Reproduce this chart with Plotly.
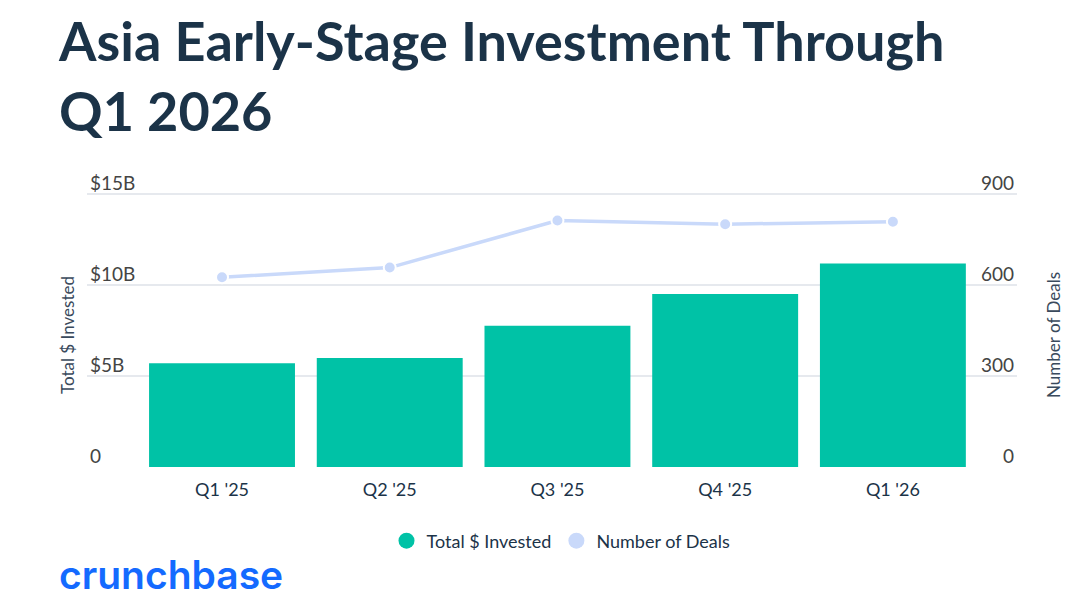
import plotly.graph_objects as go

# data
quarters = ["Q1 '25", "Q2 '25", "Q3 '25", "Q4 '25", "Q1 '26"]
invested_b = [5.70, 5.99, 7.76, 9.50, 11.17]
deal_counts = [625, 657, 812, 800, 808]

left_ticks = [0, 5, 10, 15]
left_labels = ["0", "$5B", "$10B", "$15B"]
right_ticks = [0, 300, 600, 900]

GREEN = "#00c2a6"
LIGHT_BLUE = "#c9d9fa"
INK = "#1b3348"
GRID = "#e6e9ee"
FONT = "Lato"

W, H = 1074, 600
ML, MR, MT, MB = 87, 57, 192, 133
PW, PH = W - ML - MR, H - MT - MB


def px_x(x):
    return (x - ML) / PW


def px_y(y):
    return (H - MB - y) / PH


fig = go.Figure()

fig.add_trace(go.Bar(
    x=quarters,
    y=invested_b,
    marker=dict(color=GREEN, line=dict(width=0)),
    showlegend=False,
    name="Total $ Invested",
))
fig.add_trace(go.Scatter(
    x=quarters,
    y=deal_counts,
    yaxis="y2",
    mode="lines+markers",
    line=dict(color=LIGHT_BLUE, width=3.5),
    marker=dict(size=12, color=LIGHT_BLUE, line=dict(color="white", width=2)),
    showlegend=False,
    name="Number of Deals",
))

# legend entries drawn as circles
for name, color in [("Total $ Invested", GREEN), ("Number of Deals", LIGHT_BLUE)]:
    fig.add_trace(go.Scatter(
        x=[None], y=[None], mode="markers", name=name,
        marker=dict(size=18, color=color, symbol="circle"),
    ))

fig.update_layout(
    width=W,
    height=H,
    margin=dict(l=ML, r=MR, t=MT, b=MB, autoexpand=False),
    paper_bgcolor="white",
    plot_bgcolor="white",
    font=dict(family=FONT, color=INK, size=18),
    bargap=0.13,
    xaxis=dict(
        range=[-0.805, 4.74],
        showgrid=False,
        showline=False,
        ticks="",
        automargin=False,
        ticklabelstandoff=10,
        tickfont=dict(size=18),
    ),
    yaxis=dict(
        range=[0, 15.1],
        tickvals=left_ticks,
        ticktext=left_labels,
        ticklabelposition="inside top",
        ticklabeloverflow="allow",
        ticklabelstandoff=0,
        ticklabelshift=3,
        gridcolor=GRID,
        gridwidth=1.5,
        zeroline=False,
        showline=False,
        automargin=False,
        tickfont=dict(size=19),
    ),
    yaxis2=dict(
        overlaying="y",
        side="right",
        range=[0, 906],
        tickvals=right_ticks,
        ticklabelposition="inside top",
        ticklabeloverflow="allow",
        ticklabelstandoff=0,
        ticklabelshift=3,
        showgrid=False,
        zeroline=False,
        showline=False,
        automargin=False,
        tickfont=dict(size=19),
    ),
    legend=dict(
        orientation="h",
        x=px_x(561), xanchor="center",
        y=px_y(541), yanchor="middle",
        font=dict(size=18, color=INK),
        itemsizing="trace",
    ),
    annotations=[
        dict(text="Asia Early-Stage Investment Through<br>Q1 2026",
             x=px_x(56), y=px_y(6), xanchor="left", yanchor="top",
             align="left", showarrow=False,
             font=dict(family=FONT, size=54, color=INK, weight="bold")),
        dict(text="Total $ Invested", textangle=-90, x=px_x(67), y=px_y(335),
             xanchor="center", yanchor="middle",
             showarrow=False, font=dict(size=17, color="#3a4a5c")),
        dict(text="Number of Deals", textangle=-90, x=px_x(1053), y=px_y(335),
             xanchor="center", yanchor="middle",
             showarrow=False, font=dict(size=17, color="#3a4a5c")),
        dict(text="crunchbase", x=px_x(57), y=px_y(600),
             xanchor="left", yanchor="bottom", showarrow=False,
             font=dict(family="Inter", size=39, color="#146aff", weight=600)),
    ],
)
for a in fig.layout.annotations:
    a.update(xref="paper", yref="paper")

# the page body carries a default 8px margin; drop it so the figure sits flush
fig.write_html(
    "out.html",
    config={"displayModeBar": False},
    post_script="document.body.style.margin = '0';",
)
